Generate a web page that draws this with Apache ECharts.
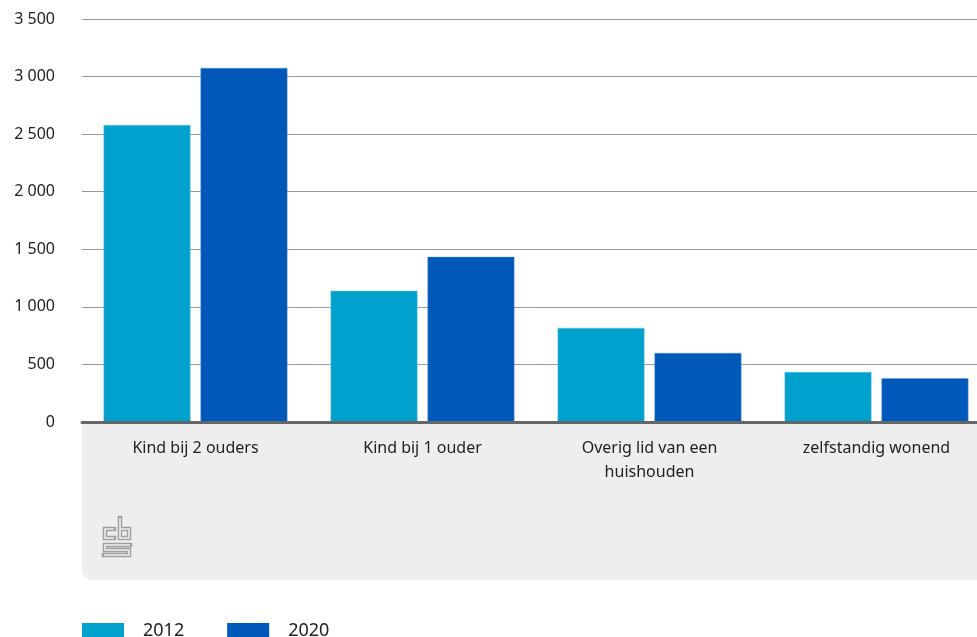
<!DOCTYPE html>
<html>
<head>
<meta charset="utf-8">
<script src="https://cdn.jsdelivr.net/npm/echarts@6/dist/echarts.min.js"></script>
<style>
html,body{margin:0;padding:0;background:#fff;}
#chart{width:977px;height:637px;}
</style>
</head>
<body>
<div id="chart"></div>
<script>
var categories = ['Kind bij 2 ouders', 'Kind bij 1 ouder', 'Overig lid van een\nhuishouden', 'zelfstandig wonend'];
var seriesNames = ['2012', '2020'];
var values2012 = [2580, 1140, 817, 435];
var values2020 = [3075, 1435, 600, 380];
var yTicks = { min: 0, max: 3500, interval: 500 };

var FONT = 'Noto Sans';
var chart = echarts.init(document.getElementById('chart'));
var logoColor = '#a0a0a0';
function outlined(points) {
  return [
    { type: 'polyline', shape: { points: points }, style: { stroke: logoColor, lineWidth: 4.5, fill: null, lineJoin: 'miter', lineCap: 'square' }, silent: true, z: 1 },
    { type: 'polyline', shape: { points: points }, style: { stroke: '#eeeeee', lineWidth: 1.6, fill: null, lineJoin: 'miter', lineCap: 'butt' }, silent: true, z: 2 }
  ];
}
var logoParts = [].concat(
  outlined([[114, 529], [105, 529], [105, 538], [114, 538]]),
  outlined([[120, 518], [120, 538], [129, 538], [129, 529], [120, 529]]),
  outlined([[130, 545], [105, 545], [105, 550], [129, 550], [129, 555], [104, 555]])
);
chart.setOption({
  animation: false,
  textStyle: { fontFamily: FONT },
  grid: { left: 82, width: 908, top: 19, height: 403, containLabel: false, outerBoundsMode: 'none' },
  graphic: [
    { type: 'rect', z: -10, shape: { x: 82, y: 423, width: 900, height: 157, r: [0, 0, 0, 10] }, style: { fill: '#eeeeee' }, silent: true },
    { type: 'group', children: logoParts }
  ],
  legend: {
    left: 82, top: 622, padding: 0,
    itemWidth: 42, itemHeight: 16, itemGap: 43,
    icon: 'rect',
    itemStyle: { borderWidth: 0 },
    textStyle: { fontSize: 18, color: '#222', fontFamily: FONT, padding: [0, 0, 0, 14] },
    data: seriesNames
  },
  xAxis: {
    type: 'category',
    data: categories,
    axisLine: { lineStyle: { color: '#666', width: 3 } },
    axisTick: { show: false },
    axisLabel: { color: '#222', fontSize: 16, lineHeight: 24, margin: 14, interval: 0 },
    z: 5
  },
  yAxis: {
    type: 'value',
    min: yTicks.min, max: yTicks.max, interval: yTicks.interval,
    axisLine: { show: false },
    axisTick: { show: false },
    splitLine: { lineStyle: { color: '#999', width: 1 } },
    axisLabel: {
      color: '#222', fontSize: 16, margin: 27,
      formatter: function (v) { return String(v).replace(/\B(?=(\d{3})+(?!\d))/g, ' '); }
    }
  },
  series: [
    { name: seriesNames[0], type: 'bar', data: values2012, barGap: '11.5%', barCategoryGap: '19%',
      itemStyle: { color: '#00a1cd', borderColor: 'rgba(120,200,230,0.9)', borderWidth: 0.5 } },
    { name: seriesNames[1], type: 'bar', data: values2020, barGap: '11.5%', barCategoryGap: '19%',
      itemStyle: { color: '#0058b8', borderColor: 'rgba(100,150,220,0.9)', borderWidth: 0.5 } }
  ]
});
</script>
</body>
</html>
